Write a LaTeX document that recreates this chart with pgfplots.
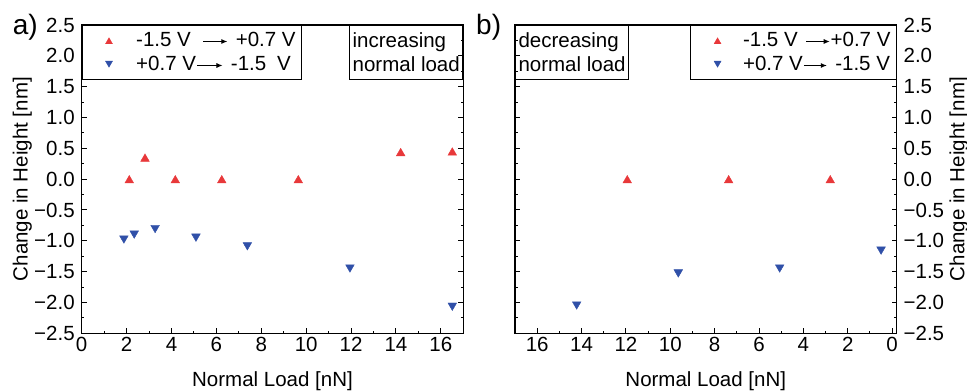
\documentclass[border=0pt]{standalone}
\usepackage{fontspec}
\setmainfont{Liberation Sans}
\usepackage{pgfplots}
\pgfplotsset{compat=1.18}
\usetikzlibrary{arrows.meta}
\definecolor{myred}{RGB}{232,56,58}
\definecolor{myblue}{RGB}{48,80,168}
\newcommand{\arr}[1]{\tikz[baseline=0pt]\draw[line width=0.9bp,-{Latex[length=6bp,width=5bp]}](0bp,5bp)--(#1,5bp);}
\pgfplotsset{
  myaxis/.style={
    scale only axis, width=381.6bp, height=308.3bp,
    clip=false,
    ymin=-2.5, ymax=2.5,
    ytick={-2.5,-2,...,2.5},
    yticklabels={−2.5,−2.0,−1.5,−1.0,−0.5,0.0,0.5,1.0,1.5,2.0,2.5},
    xtick={0,2,...,16},
    xticklabels={0,2,4,6,8,10,12,14,16},
    minor x tick num=1, minor y tick num=1,
    tick align=inside,
    xtick pos=bottom,
    ytick pos=both,
    major tick length=5bp, minor tick length=2.5bp,
    axis line style={line width=1.2bp},
    every tick/.style={line width=1bp, black},
    xticklabel style={inner sep=0pt, yshift=-4bp},
    xlabel={Normal Load [nN]},
    ylabel={Change in Height [nm]},
    xlabel style={at={(axis description cs:0.5,-0.1732)}, anchor=base},
    legend cell align=left,
    legend style={at={(rel axis cs:0,1)}, anchor=north west, draw=black, line width=1bp,
      inner xsep=2.6bp, inner ysep=3bp,
      nodes={inner sep=3bp, text height=15bp, text depth=3bp},
      column sep=0bp, row sep=0bp},
  },
  redm/.style={color=myred, only marks, mark=triangle*, mark size=5bp, mark options={line width=0.4bp, draw=myred, fill=myred, yshift=-1.3bp}},
  bluem/.style={color=myblue, only marks, mark=triangle*, mark size=5bp, mark options={line width=0.4bp, draw=myblue, fill=myblue, yshift=1.3bp, rotate=180}},
}
\begin{document}
\fontsize{20.5bp}{24bp}\selectfont
\begin{tikzpicture}
\useasboundingbox (0,0) rectangle (967bp,392bp);
\begin{axis}[myaxis, at={(81.7bp,58.7bp)}, anchor=south west,
  xmin=0, xmax=17,
  ylabel style={at={(axis description cs:-0.1418,0.5)}, anchor=base},
  legend image code/.code={\path (0bp,0bp) (47.4bp,0bp); \draw[#1, mark size=4bp] plot coordinates {(23.7bp,0bp)};},
]
\addplot[redm] coordinates {(2.12,0) (2.82,0.35) (4.17,0) (6.24,0) (9.65,0) (14.21,0.44) (16.51,0.45)};
\addlegendentry{-1.5 V\hspace{12bp}\arr{24bp}\hspace{8bp}+0.7 V}
\addplot[bluem] coordinates {(1.88,-0.98) (2.34,-0.90) (3.27,-0.81) (5.09,-0.95) (7.38,-1.09) (11.95,-1.45) (16.51,-2.07)};
\addlegendentry{+0.7 V\hspace{1bp}\arr{25bp}\hspace{8bp}-1.5\hspace{11bp}V}
\node[draw, line width=1bp, anchor=north east, inner xsep=3bp, minimum height=54bp, align=left] at (rel axis cs:1,1) {increasing\\normal load};
\node[anchor=base west, inner sep=0pt, font=\fontsize{28bp}{30bp}\selectfont] at (axis description cs:-0.1808,0.9676) {a)};
\end{axis}
\begin{axis}[myaxis, at={(515bp,58.7bp)}, anchor=south west,
  xmin=-0.2, xmax=17, x dir=reverse,
  yticklabel pos=right,
  ylabel style={at={(axis description cs:1.1776,0.5)}, anchor=base},
  legend style={at={(rel axis cs:1,1)}, anchor=north east},
  legend image code/.code={\path (0bp,0bp) (45.7bp,0bp); \draw[#1, mark size=4bp] plot coordinates {(23.7bp,0bp)};},
]
\addplot[redm] coordinates {(11.94,0) (7.37,0) (2.79,0)};
\addlegendentry{-1.5 V\hspace{8bp}\arr{23.5bp}\hspace{0.5bp}+0.7 V}
\addplot[bluem] coordinates {(14.22,-2.05) (9.64,-1.53) (5.07,-1.45) (0.50,-1.16)};
\addlegendentry{+0.7 V\hspace{0.5bp}\arr{23bp}\hspace{8bp}-1.5 V}
\node[draw, line width=1bp, anchor=north west, inner xsep=3bp, minimum height=54bp, align=left] at (rel axis cs:0,1) {decreasing\\normal load};
\node[anchor=base west, inner sep=0pt, font=\fontsize{28bp}{30bp}\selectfont] at (axis description cs:-0.1022,0.9676) {b)};
\end{axis}
\end{tikzpicture}
\end{document}
